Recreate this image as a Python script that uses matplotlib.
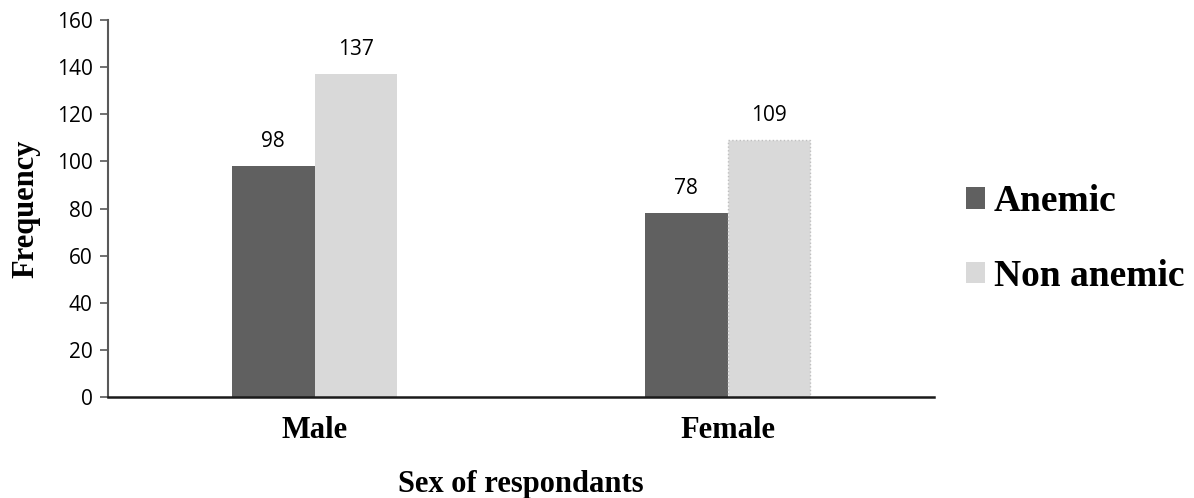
import numpy as np
import matplotlib.pyplot as plt
from matplotlib.patches import Patch

# anaemia status by sex of respondents
sexes = ['Male', 'Female']
anemic = [98, 78]
non_anemic = [137, 109]
series_names = ['Anemic', 'Non anemic']

dark = '#606060'
light = '#d9d9d9'
serif = 'Liberation Serif'
sans = 'Open Sans'

fig = plt.figure(figsize=(11.94, 4.98), dpi=100)
ax = fig.add_axes([108 / 1194, 1 - 397 / 498, (934 - 108) / 1194, (397 - 20) / 498])

x = np.arange(len(sexes))
w = 0.2
b1 = ax.bar(x - w / 2, anemic, w, color=dark, linewidth=0)
b2 = ax.bar(x + w / 2, non_anemic, w, color=light, linewidth=0)
# the second light bar has a faint dotted outline
b2[1].set_edgecolor('#bfbfbf')
b2[1].set_linewidth(1.0)
b2[1].set_linestyle(':')

for bars, vals in [(b1, anemic), (b2, non_anemic)]:
    for r, v in zip(bars, vals):
        ax.annotate(str(v), (r.get_x() + r.get_width() / 2, v),
                    xytext=(0, 13.5), textcoords='offset points',
                    ha='center', va='baseline', fontsize=15, family=sans)

ax.set_xlim(-0.5, 1.5)
ax.set_ylim(0, 160)
ax.set_yticks(range(0, 161, 20))
ax.set_xticks(x)
ax.set_xticklabels(sexes, fontsize=22, family=serif, fontweight='bold')
ax.tick_params(axis='x', length=0, pad=14)
ax.tick_params(axis='y', length=6, width=1.2, color='#595959', pad=5, labelsize=15)
for lab in ax.get_yticklabels():
    lab.set_family(sans)

for s in ['top', 'right']:
    ax.spines[s].set_visible(False)
ax.spines['left'].set_color('#595959')
ax.spines['left'].set_linewidth(1.5)
ax.spines['bottom'].set_color('#1a1a1a')
ax.spines['bottom'].set_linewidth(1.8)

ax.set_ylabel('Frequency', fontsize=22, family=serif, fontweight='bold', labelpad=12)
ax.set_xlabel('Sex of respondants', fontsize=22, family=serif, fontweight='bold', labelpad=18)

handles = [Patch(facecolor=dark), Patch(facecolor=light)]
fig.legend(handles, series_names, loc='center left',
           bbox_to_anchor=(966 / 1194, 1 - 239 / 498), frameon=False,
           prop={'family': serif, 'weight': 'bold', 'size': 27},
           handlelength=0.5, handleheight=0.5, handletextpad=0.25,
           labelspacing=1.05, borderpad=0, borderaxespad=0)

fig.savefig('out.png', dpi=100)
